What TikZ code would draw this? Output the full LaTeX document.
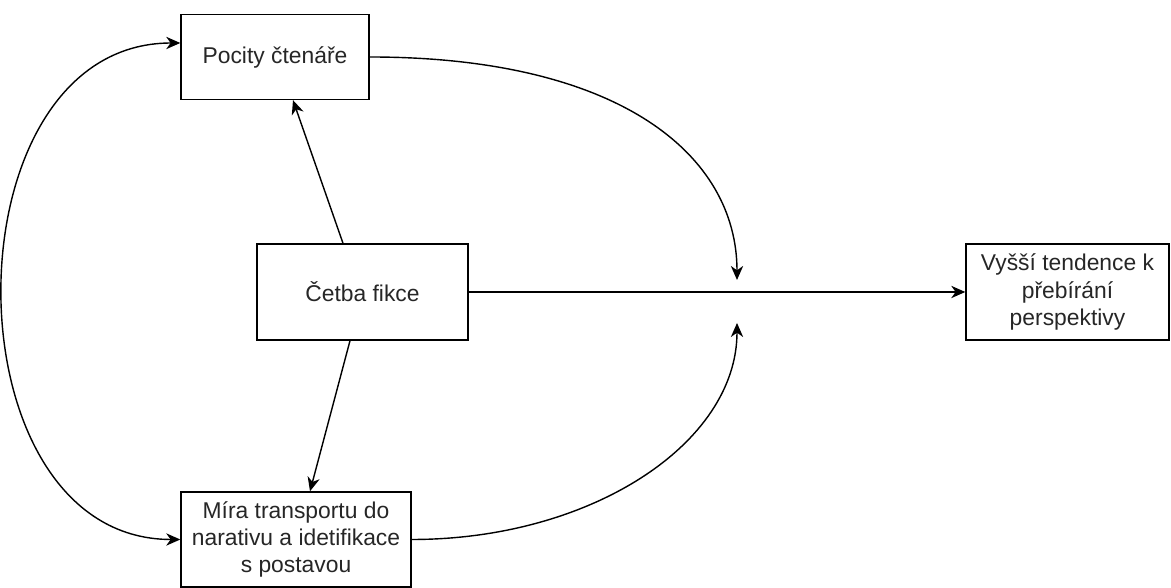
\documentclass[tikz,border=0pt]{standalone}
\usepackage{fontspec}
\setmainfont{Liberation Sans}
\usepackage{tikz}
\usetikzlibrary{arrows.meta,positioning}

\begin{document}
\begin{tikzpicture}
			[
				align=center,
				>={Stealth[length=8pt,width=7pt,inset=2.5pt]},
				box/.style={draw, line width=0.8pt, inner sep=0pt, text=black!85,
					font=\fontsize{13}{15.4}\selectfont},
				arrow/.style={->, line width=0.8pt}
			]

			\useasboundingbox (0,0) rectangle (23.42,11.76);

			% boxes
			\node[box,minimum width=3.76cm,minimum height=1.70cm] (pocity) at (  5.50, 10.62 ) {Pocity čtenáře};
			\node[box,minimum width=4.22cm,minimum height=1.92cm] (cetba)  at (  7.25,  5.92 ) {Četba fikce};
			\node[box,minimum width=4.06cm,minimum height=1.92cm] (vyssi)  at ( 21.35,  5.92 ) {Vyšší tendence k\\přebírání\\perspektivy};
			\node[box,minimum width=4.60cm,minimum height=1.90cm] (mira)   at (  5.92,  0.97 ) {Míra transportu do\\narativu a idetifikace\\s postavou};

			% free ends of the curved arrows
			\coordinate (t1) at ( 14.74, 6.16 );
			\coordinate (t2) at ( 14.74, 5.30 );

			% straight arrows
			\draw[arrow] ([xshift=-0.39cm]cetba.north) -- ([xshift=0.36cm]pocity.south);
			\draw[arrow] ([xshift=-0.25cm]cetba.south) -- ([xshift=0.28cm]mira.north);
			\draw[arrow] (cetba) -- (vyssi);

			% curved arrows
			\draw[arrow] (pocity.east) to [out=0,in=90,out distance=5cm,in distance=2.5cm] (t1);
			\draw[arrow] (mira.east) to [out=0,in=-90,out distance=3.6cm,in distance=2.4cm] (t2);
			\draw[arrow,<->] ([yshift=0.28cm]pocity.west) to [out=180,in=180,looseness=1.22] (mira.west);

		\end{tikzpicture}
\end{document}
